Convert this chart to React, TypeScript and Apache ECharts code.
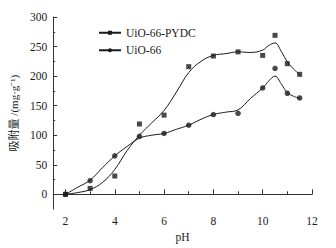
import React, { useEffect, useRef } from "react";
import * as echarts from "echarts";

const pH = [2, 3, 4, 5, 6, 7, 8, 9, 10, 10.5, 11, 11.5];
const pydcPoints = [0, 10, 31, 119, 134, 216, 234, 241, 235, 269, 221, 203];
const uioPoints = [0, 23, 65, 98, 103, 117, 135, 137, 180, 213, 171, 163];

const fitPH = [2, 2.5, 3, 3.5, 4, 4.5, 5, 5.5, 6, 6.5, 7, 7.5, 8, 8.5, 9, 9.5, 10, 10.25, 10.5, 10.75, 11, 11.25, 11.5];
const pydcFit = [0, 3, 8, 20, 42, 74, 100, 121, 142, 173, 206, 225, 235, 238, 241, 240, 244, 252, 256, 242, 224, 212, 203];
const uioFit = [0, 12, 24, 45, 65, 81, 95, 100, 103, 110, 117, 127, 135, 139, 143, 162, 180, 192, 200, 187, 172, 166, 162];

const xMajor = [2, 4, 6, 8, 10, 12];
const xMinor = [3, 5, 7, 9, 11];
const yMajor = [0, 50, 100, 150, 200, 250, 300];
const yMinor = [25, 75, 125, 175, 225, 275];

const FONT = "'Liberation Serif', 'Times New Roman', 'Noto Sans CJK SC', serif";
const INK = "#1a1a1a";
const AXIS = "#333";

export default function App() {
  const ref = useRef<HTMLDivElement>(null);
  useEffect(() => {
    if (!ref.current) return;
    const chart = echarts.init(ref.current, null, { renderer: "svg" });
    const zip = (xs: number[], ys: number[]) => xs.map((x, i) => [x, ys[i]]);
    chart.setOption({
      animation: false,
      backgroundColor: "#fff",
      textStyle: { fontFamily: FONT, color: INK },
      grid: { left: 51, right: 24, top: 17, bottom: 36 },
      legend: {
        data: ["UiO-66-PYDC", "UiO-66"],
        orient: "vertical",
        left: 93,
        top: 22,
        itemWidth: 22,
        itemHeight: 5,
        itemGap: 6,
        textStyle: { fontFamily: FONT, fontSize: 11.5, color: INK },
      },
      xAxis: [
        {
          type: "value",
          min: 1.5,
          max: 12,
          name: "pH",
          nameLocation: "middle",
          nameGap: 17,
          nameTextStyle: { fontFamily: FONT, fontSize: 11.5, color: INK },
          axisLine: { lineStyle: { color: AXIS, width: 1 } },
          axisTick: { inside: true, length: 5, customValues: xMajor, lineStyle: { color: AXIS } },
          axisLabel: { customValues: xMajor, margin: 6, fontFamily: FONT, fontSize: 11.5, color: INK },
          splitLine: { show: false },
        },
        {
          type: "value",
          min: 1.5,
          max: 12,
          position: "bottom",
          axisLine: { show: false },
          axisTick: { inside: true, length: 3, customValues: xMinor, lineStyle: { color: AXIS } },
          axisLabel: { show: false },
          splitLine: { show: false },
        },
      ],
      yAxis: [
        {
          type: "value",
          min: -25,
          max: 300,
          name: "吸附量 /(mg·g⁻¹)",
          nameLocation: "middle",
          nameGap: 32,
          nameTextStyle: { fontFamily: FONT, fontSize: 11, color: INK },
          axisLine: { show: true, lineStyle: { color: AXIS, width: 1 } },
          axisTick: { show: true, inside: true, length: 4, customValues: yMajor, lineStyle: { color: AXIS } },
          axisLabel: { customValues: yMajor, margin: 6, fontFamily: FONT, fontSize: 11.5, color: INK },
          splitLine: { show: false },
        },
        {
          type: "value",
          min: -25,
          max: 300,
          position: "left",
          axisLine: { show: false },
          axisTick: { show: true, inside: true, length: 2, customValues: yMinor, lineStyle: { color: AXIS } },
          axisLabel: { show: false },
          splitLine: { show: false },
        },
      ],
      series: [
        {
          name: "UiO-66-PYDC",
          type: "line",
          data: zip(fitPH, pydcFit),
          smooth: 0.4,
          symbol: "rect",
          symbolSize: 5,
          showSymbol: false,
          itemStyle: { color: INK },
          lineStyle: { color: INK, width: 1 },
        },
        {
          name: "UiO-66",
          type: "line",
          data: zip(fitPH, uioFit),
          smooth: 0.4,
          symbol: "circle",
          symbolSize: 6,
          showSymbol: false,
          itemStyle: { color: INK },
          lineStyle: { color: INK, width: 1 },
        },
        {
          name: "pydcPts",
          type: "scatter",
          data: zip(pH, pydcPoints),
          symbol: "rect",
          symbolSize: 5,
          itemStyle: { color: INK },
        },
        {
          name: "uioPts",
          type: "scatter",
          data: zip(pH, uioPoints),
          symbol: "circle",
          symbolSize: 5.5,
          itemStyle: { color: INK },
        },
      ],
    });
    return () => chart.dispose();
  }, []);
  return <div ref={ref} style={{ width: 336, height: 248, position: "fixed", left: 0, top: 0 }} />;
}
